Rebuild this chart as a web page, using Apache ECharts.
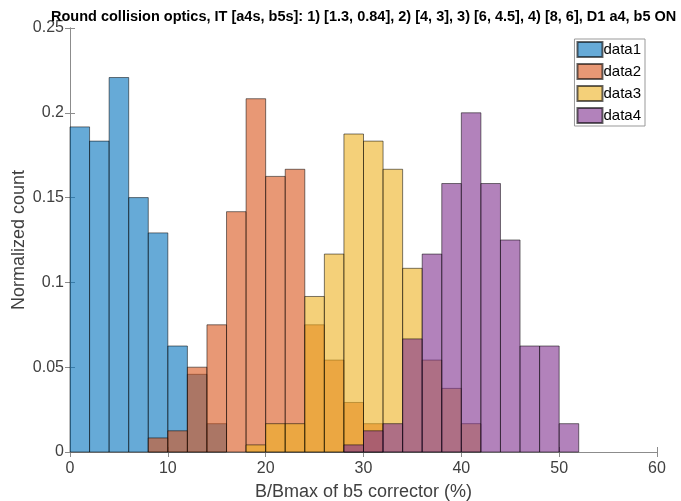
<!DOCTYPE html>
<html>
<head>
<meta charset="utf-8">
<script src="https://cdn.jsdelivr.net/npm/echarts@6/dist/echarts.min.js"></script>
<style>
  html, body { margin: 0; padding: 0; background: #fff; }
  #chart { width: 681px; height: 501px; }
</style>
</head>
<body>
<div id="chart"></div>
<script>
var binStarts = [0, 2, 4, 6, 8, 10, 12, 14, 16, 18, 20, 22, 24, 26, 28, 30, 32, 34, 36, 38, 40, 42, 44, 46, 48, 50];
var binWidth = 2;

var data1 = [0.1917, 0.1833, 0.2208, 0.15, 0.1292, 0.0625, 0.0458, 0.0167, 0, 0, 0, 0, 0, 0, 0, 0, 0, 0, 0, 0, 0, 0, 0, 0, 0, 0];
var data2 = [0, 0, 0, 0, 0.0083, 0.0125, 0.05, 0.075, 0.1417, 0.2083, 0.1625, 0.1667, 0.075, 0.0542, 0.0292, 0.0167, 0, 0, 0, 0, 0, 0, 0, 0, 0, 0];
var data3 = [0, 0, 0, 0, 0, 0, 0, 0, 0, 0.0042, 0.0167, 0.0167, 0.0917, 0.1167, 0.1875, 0.1833, 0.1667, 0.1083, 0.0542, 0.0375, 0.0167, 0, 0, 0, 0, 0];
var data4 = [0, 0, 0, 0, 0, 0, 0, 0, 0, 0, 0, 0, 0, 0, 0.0042, 0.0125, 0.0167, 0.0667, 0.1167, 0.1583, 0.2, 0.1583, 0.125, 0.0625, 0.0625, 0.0167];

var seriesNames = ['data1', 'data2', 'data3', 'data4'];
var seriesValues = [data1, data2, data3, data4];
var colors = ['rgba(0,114,189,0.6)', 'rgba(217,83,25,0.6)', 'rgba(237,177,32,0.6)', 'rgba(126,47,142,0.6)'];

var chart = echarts.init(document.getElementById('chart'));

function histData(vals) {
    var out = [];
    for (var i = 0; i < binStarts.length; i++) {
        if (vals[i] > 0) out.push([binStarts[i], binStarts[i] + binWidth, vals[i]]);
    }
    return out;
}

function makeRender(color) {
    return function (params, api) {
        var p0 = api.coord([api.value(0), api.value(2)]);
        var p1 = api.coord([api.value(1), 0]);
        return {
            type: 'rect',
            shape: { x: p0[0], y: p0[1], width: p1[0] - p0[0], height: p1[1] - p0[1] },
            style: { fill: color, stroke: 'rgba(0,0,0,0.65)', lineWidth: 0.8 }
        };
    };
}

var series = [];
for (var s = 0; s < 4; s++) {
    series.push({
        name: seriesNames[s],
        type: 'custom',
        renderItem: makeRender(colors[s]),
        itemStyle: { color: colors[s], borderColor: 'rgba(0,0,0,0.6)', borderWidth: 0.8 },
        encode: { x: [0, 1], y: 2 },
        data: histData(seriesValues[s]),
        silent: true
    });
}

var axisCol = '#404040';
var frameCol = '#8c8c8c';

var option = {
    animation: false,
    backgroundColor: '#fff',
    title: {
        text: 'Round collision optics, IT [a4s, b5s]: 1) [1.3, 0.84], 2) [4, 3], 3) [6, 4.5], 4) [8, 6], D1 a4, b5 ON',
        left: 46,
        top: 4,
        textStyle: { fontFamily: 'Liberation Sans', fontSize: 14.5, fontWeight: 'bold', color: '#000' }
    },
    legend: {
        orient: 'vertical',
        right: 36,
        top: 39,
        itemWidth: 25,
        itemHeight: 15,
        itemGap: 5,
        padding: [2, 4, 2, 2],
        borderColor: '#999',
        borderWidth: 1,
        backgroundColor: '#fff',
        icon: 'rect',
        textStyle: { fontFamily: 'Liberation Sans', fontSize: 15, color: '#000', padding: [0, 0, 0, -4] },
        data: seriesNames
    },
    grid: { left: 70, right: 24, top: 28, bottom: 49, outerBoundsMode: 'none' },
    xAxis: [{
        type: 'value', min: 0, max: 60, interval: 10, position: 'bottom',
        name: 'B/Bmax of b5 corrector (%)', nameLocation: 'middle', nameGap: 31,
        nameTextStyle: { fontFamily: 'Liberation Sans', fontSize: 18, color: axisCol },
        axisLine: { lineStyle: { color: frameCol, width: 1 } },
        axisTick: { inside: true, length: 5, lineStyle: { color: frameCol } },
        axisLabel: { fontFamily: 'Liberation Sans', fontSize: 16, color: axisCol, margin: 9 },
        splitLine: { show: false }
    }, {
        type: 'value', min: 0, max: 60, interval: 10, position: 'top',
        axisLine: { lineStyle: { color: frameCol, width: 1 } },
        axisTick: { inside: true, length: 5, lineStyle: { color: frameCol } },
        axisLabel: { show: false },
        splitLine: { show: false }
    }],
    yAxis: [{
        type: 'value', min: 0, max: 0.25, interval: 0.05, position: 'left',
        name: 'Normalized count', nameLocation: 'middle', nameGap: 42, nameMoveOverlap: false,
        nameTextStyle: { fontFamily: 'Liberation Sans', fontSize: 18, color: axisCol },
        axisLine: { show: true, lineStyle: { color: frameCol, width: 1 } },
        axisTick: { show: true, inside: true, length: 5, lineStyle: { color: frameCol } },
        axisLabel: { fontFamily: 'Liberation Sans', fontSize: 16, color: axisCol, margin: 6 },
        splitLine: { show: false }
    }, {
        type: 'value', min: 0, max: 0.25, interval: 0.05, position: 'right',
        axisLine: { show: true, lineStyle: { color: frameCol, width: 1 } },
        axisTick: { show: true, inside: true, length: 5, lineStyle: { color: frameCol } },
        axisLabel: { show: false },
        splitLine: { show: false }
    }],
    series: series
};

chart.setOption(option);
</script>
</body>
</html>
